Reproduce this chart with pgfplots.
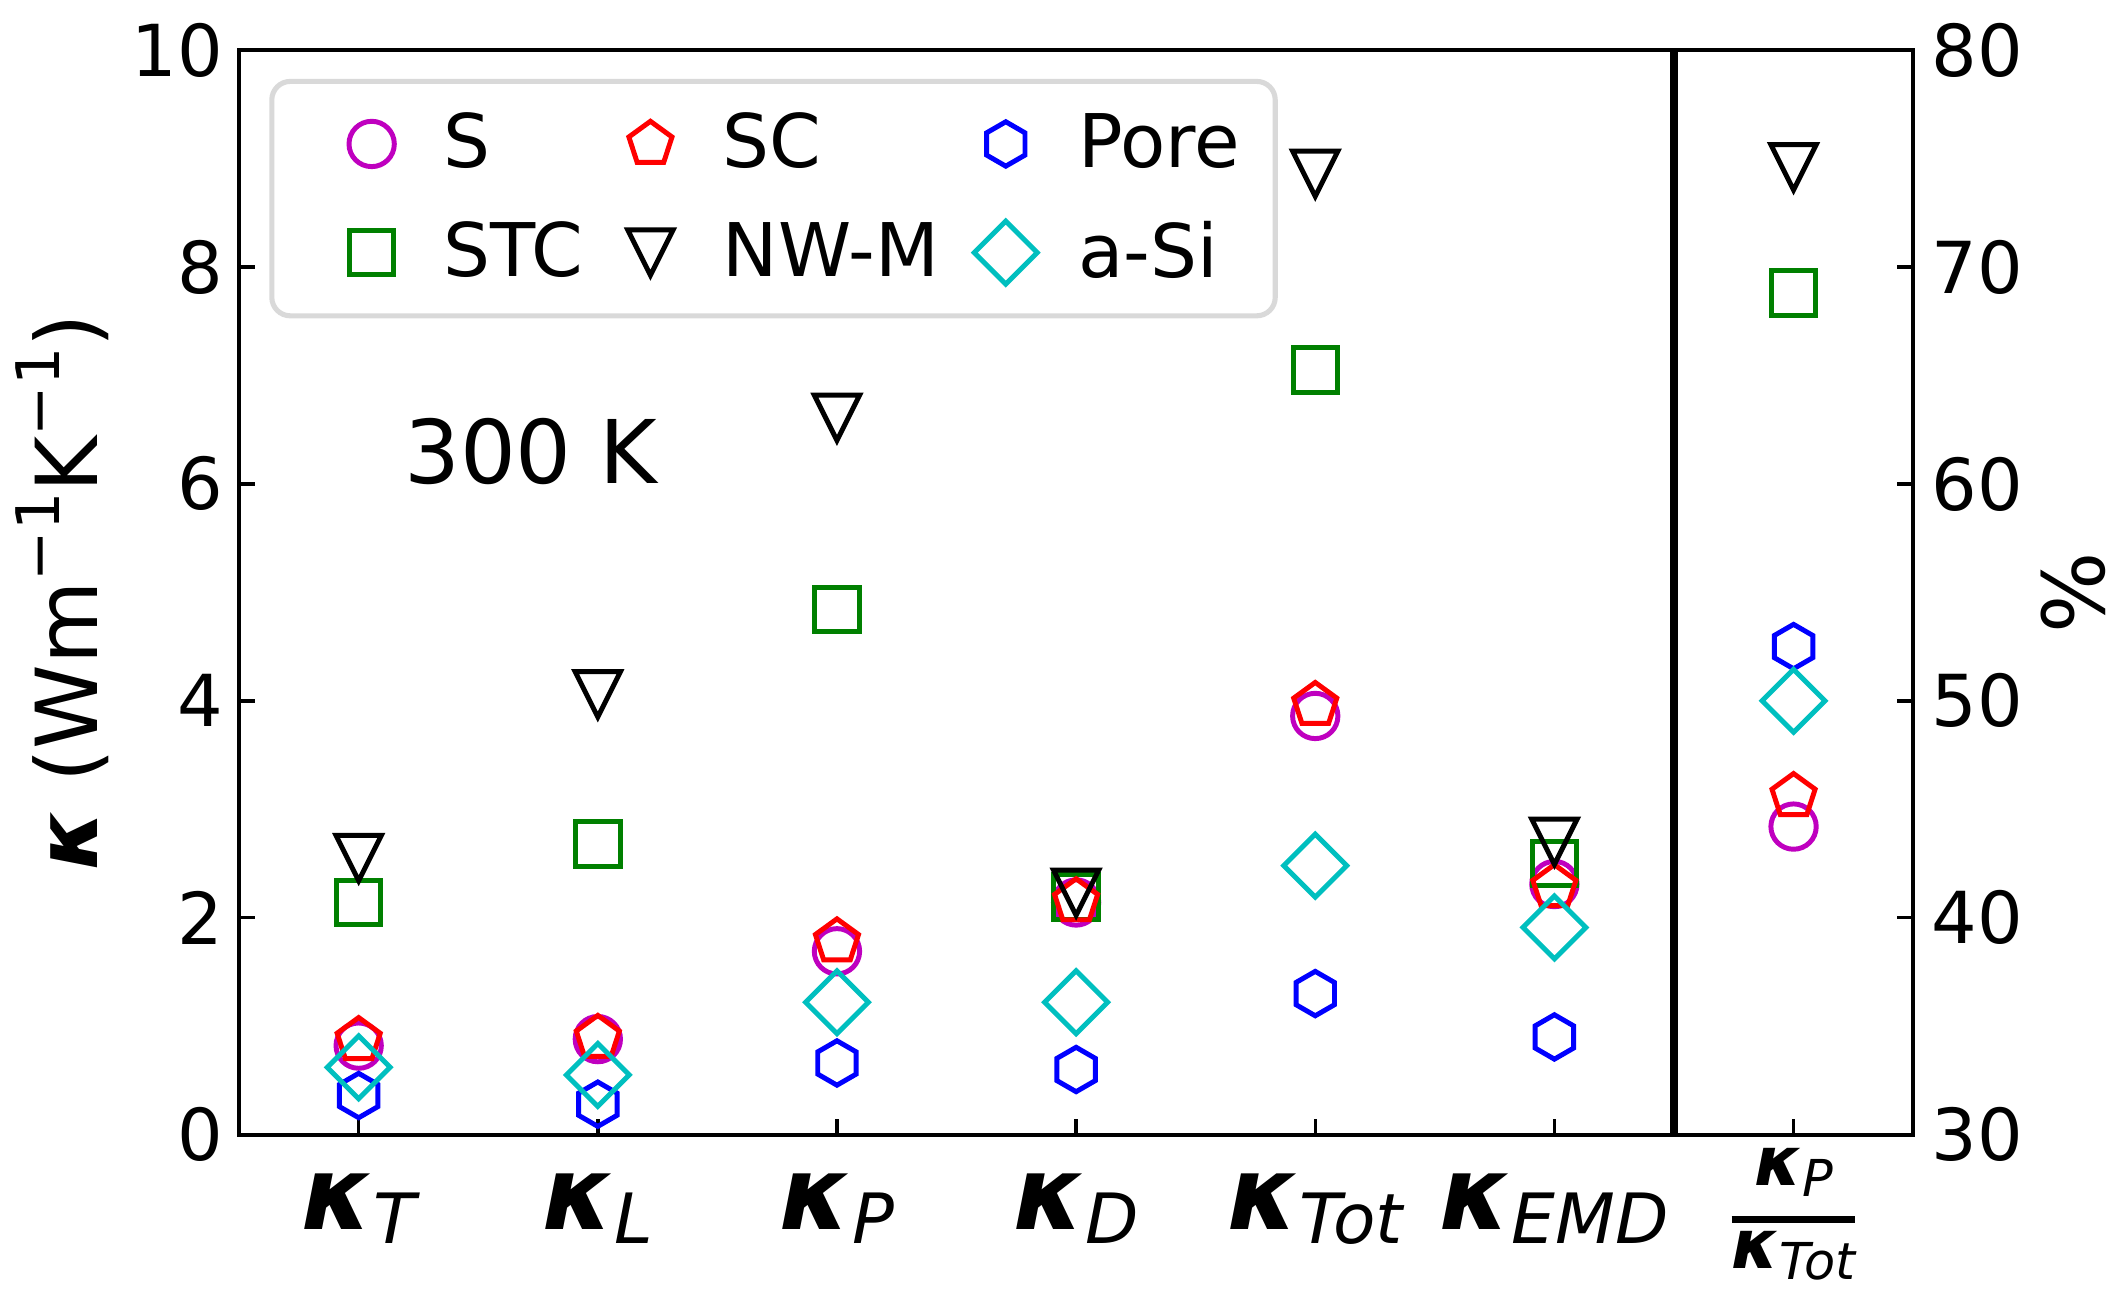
\documentclass[border=0pt]{standalone}
\usepackage{fontspec}
\setmainfont{DejaVu Sans}
\usepackage{pgfplots}
\pgfplotsset{compat=1.18}
\usepackage{pgfplotstable}
\usetikzlibrary{plotmarks}

\definecolor{cM}{rgb}{0.75,0,0.75}
\definecolor{cC}{rgb}{0,0.75,0.75}
\definecolor{cG}{rgb}{0,0.5,0}

\pgfdeclareplotmark{hexa}{%
 \pgfpathmoveto{\pgfqpointpolar{90}{\pgfplotmarksize}}%
 \pgfpathlineto{\pgfqpointpolar{150}{\pgfplotmarksize}}%
 \pgfpathlineto{\pgfqpointpolar{210}{\pgfplotmarksize}}%
 \pgfpathlineto{\pgfqpointpolar{270}{\pgfplotmarksize}}%
 \pgfpathlineto{\pgfqpointpolar{330}{\pgfplotmarksize}}%
 \pgfpathlineto{\pgfqpointpolar{30}{\pgfplotmarksize}}%
 \pgfpathclose\pgfusepathqstroke}
\pgfdeclareplotmark{tridown}{%
 \pgfpathmoveto{\pgfqpoint{-\pgfplotmarksize}{\pgfplotmarksize}}%
 \pgfpathlineto{\pgfqpoint{\pgfplotmarksize}{\pgfplotmarksize}}%
 \pgfpathlineto{\pgfqpoint{0pt}{-\pgfplotmarksize}}%
 \pgfpathclose\pgfusepathqstroke}
\pgfdeclareplotmark{dmd}{%
 \pgfpathmoveto{\pgfqpoint{0pt}{\pgfplotmarksize}}%
 \pgfpathlineto{\pgfqpoint{\pgfplotmarksize}{0pt}}%
 \pgfpathlineto{\pgfqpoint{0pt}{-\pgfplotmarksize}}%
 \pgfpathlineto{\pgfqpoint{-\pgfplotmarksize}{0pt}}%
 \pgfpathclose\pgfusepathqstroke}

\newcommand{\kl}[1]{{\fontsize{22}{26}\selectfont\bfseries\itshape κ}\raisebox{-3pt}{\fontsize{15}{18}\selectfont\itshape #1}}
\newcommand{\ks}[1]{{\fontsize{14.7}{16}\selectfont\bfseries\itshape κ}\raisebox{-2.4pt}{\fontsize{11}{12}\selectfont\itshape #1}}
\newcommand{\kfrac}{\makebox[0.94cm]{%
 \rlap{\raisebox{9.5pt}{\makebox[0.94cm]{\ks{P}}}}%
 \rlap{\raisebox{1.375pt}{\rule{0.94cm}{1.45pt}}}%
 \raisebox{-8.5pt}{\makebox[0.94cm]{\ks{Tot}}}}}

\pgfplotstableread{
x  S    SC   Pore  STC  NWM  aSi
0  0.82 0.87 0.36  2.14 2.55 0.62
1  0.88 0.89 0.28  2.68 4.06 0.55
2  1.69 1.78 0.66  4.84 6.61 1.22
3  2.14 2.15 0.60  2.19 2.23 1.22
4  3.86 3.96 1.30  7.05 8.86 2.48
5  2.31 2.28 0.90  2.50 2.70 1.91
}\kdata
\pgfplotstableread{
x  S    SC   Pore  STC  NWM  aSi
6  44.2 45.6 52.5  68.8 74.6 50.0
}\rdata

\pgfplotsset{
 mS/.style={only marks, mark=o, mark size=4.9pt, cM, line width=1.07pt},
 mSC/.style={only marks, mark=pentagon, mark size=4.9pt, red, line width=1.07pt},
 mPore/.style={only marks, mark=hexa, mark size=4.8pt, blue, line width=1.07pt},
 mSTC/.style={only marks, mark=square, mark size=4.8pt, cG, line width=1.07pt},
 mNWM/.style={only marks, mark=tridown, mark size=4.9pt, black, line width=1.07pt},
 maSi/.style={only marks, mark=dmd, mark size=6.8pt, cC, line width=1.07pt},
 common/.style={
  scale only axis, width=12.72cm, height=8.24cm,
  xmin=-0.5, xmax=6.5,
  tick align=inside, major tick length=3.4pt,
  every tick/.style={black, line width=0.75pt},
  axis line style={line width=0.85pt},
  tick label style={font=\fontsize{15.5}{18}\selectfont},
  /pgf/number format/assume math mode=true,
 },
}

\begin{document}
\begin{tikzpicture}
\begin{axis}[common, name=main,
 ymin=0, ymax=10, ytick={0,2,...,10},
 xtick={0,...,6},
 xticklabels={\kl{T},\kl{L},\kl{P},\kl{D},\kl{Tot},\kl{EMD},\kfrac},
 xtick pos=bottom, ytick pos=left,
 xticklabel style={anchor=base, yshift=-20.5pt, inner sep=0pt},
 ylabel={{\bfseries\itshape κ} (Wm\raisebox{0.45em}{\fontsize{13}{14}\selectfont −1}K\raisebox{0.45em}{\fontsize{13}{14}\selectfont −1})},
 ylabel style={font=\fontsize{18.5}{22}\selectfont, yshift=-2pt},
 legend columns=3,
 legend cell align=left,
 legend image code/.code={\path (-0.54cm,0cm) (0.28cm,0cm); \draw[#1] plot coordinates {(0cm,0cm)};},
 legend style={at={(0.018,0.9735)}, anchor=north west, draw=black!15, line width=1.1pt,
   rounded corners=4pt, inner xsep=0.2cm, inner ysep=0.17cm,
   font=\fontsize{16}{18}\selectfont,
   row sep=0.21cm,
   /tikz/every odd column/.append style={column sep=0.18cm},
   /tikz/every even column/.append style={column sep=-0.12cm}},
]
\addplot[mS, forget plot] table[x=x,y=S]{\kdata};
\addplot[mSTC, forget plot] table[x=x,y=STC]{\kdata};
\addplot[mSC, forget plot] table[x=x,y=SC]{\kdata};
\addplot[mNWM, forget plot] table[x=x,y=NWM]{\kdata};
\addplot[mPore, forget plot] table[x=x,y=Pore]{\kdata};
\addplot[maSi, forget plot] table[x=x,y=aSi]{\kdata};
\addplot[black, line width=1.6pt, forget plot] coordinates {(5.5,0) (5.5,10)};
\addlegendimage{mS}\addlegendentry{S}
\addlegendimage{mSC}\addlegendentry{SC}
\addlegendimage{mPore}\addlegendentry{Pore}
\addlegendimage{mSTC}\addlegendentry{STC}
\addlegendimage{mNWM}\addlegendentry{NW-M}
\addlegendimage{maSi}\addlegendentry{a-Si}
\node[font=\fontsize{19}{22}\selectfont] at (axis cs:0.72,6.3) {300 K};
\end{axis}
\begin{axis}[common,
 ymin=30, ymax=80, ytick={30,40,...,80},
 axis x line=none, axis y line*=right,
 yticklabel style={xshift=0.5pt},
 ylabel={\%}, ylabel style={font=\fontsize{18.5}{22}\selectfont, yshift=3pt},
]
\addplot[mS] table[x=x,y=S]{\rdata};
\addplot[mSTC] table[x=x,y=STC]{\rdata};
\addplot[mSC] table[x=x,y=SC]{\rdata};
\addplot[mNWM] table[x=x,y=NWM]{\rdata};
\addplot[mPore] table[x=x,y=Pore]{\rdata};
\addplot[maSi] table[x=x,y=aSi]{\rdata};
\end{axis}
\path ([yshift=0.381cm]main.north) ([yshift=-1.18cm]main.south);
\end{tikzpicture}
\end{document}
